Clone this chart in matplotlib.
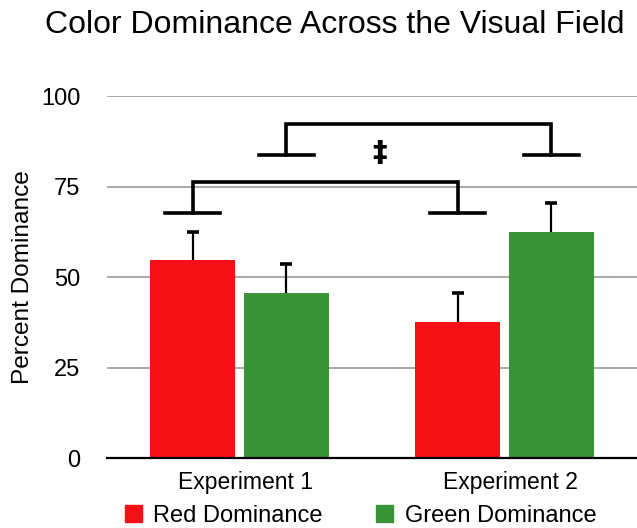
import matplotlib
matplotlib.use("Agg")
import matplotlib.pyplot as plt
import numpy as np
from matplotlib.patches import Patch

categories = ["Experiment 1", "Experiment 2"]
red_values = [54.7, 37.7]
green_values = [45.7, 62.6]
red_err = [7.9, 8.0]
green_err = [8.0, 8.0]
series_names = ["Red Dominance", "Green Dominance"]
y_ticks = [0, 25, 50, 75, 100]
bracket_levels = [(76.2, 67.7), (92.3, 83.8)]  # (top, cap) for red pair, green pair
sig_mark = "\u2021"

RED = "#F50F17"
GREEN = "#3B9337"
FONT = ["Liberation Sans", "DejaVu Sans"]
plt.rcParams["font.family"] = FONT

fig = plt.figure(figsize=(6.37, 5.28), dpi=100)
ax = fig.add_axes([107/637, 69.7/528, 530/637, 362.3/528])

x = np.arange(len(categories))
w = 0.322
off = 0.177
for xs, vals, errs, col in [(x - off, red_values, red_err, RED),
                            (x + off, green_values, green_err, GREEN)]:
    ax.bar(xs, vals, w, color=col, zorder=3)
    tops = np.array(vals) + np.array(errs)
    ax.vlines(xs, vals, tops, color="black", lw=1.6, zorder=4)
    ax.plot(xs, tops, linestyle="none", marker="_", markersize=9,
            markeredgewidth=2.6, color="black", zorder=4)

ax.set_xlim(-0.5, 1.5)
ax.set_ylim(0, 100)
ax.set_yticks(y_ticks)
ax.set_yticklabels([str(t) for t in y_ticks], fontsize=17)
ax.set_xticks(x + 0.022)
ax.set_xticklabels(categories, fontsize=16.5)
ax.tick_params(length=0)
ax.tick_params(axis="y", pad=19)
ax.tick_params(axis="x", pad=9)
ax.yaxis.grid(True, color="#A8A8A8", linewidth=1.4, zorder=0)
ax.set_axisbelow(True)
for s in ["top", "right", "left"]:
    ax.spines[s].set_visible(False)
ax.spines["bottom"].set_linewidth(1.6)
ax.spines["bottom"].set_zorder(4)
ax.set_ylabel("Percent Dominance", fontsize=17.6)
ax.yaxis.set_label_coords(-0.138, 0.5)

# significance brackets
cap_hw = 0.103
for (top, cap), sign in zip(bracket_levels, [-1, 1]):
    xs = x + sign * off
    ax.plot([xs[0], xs[0], xs[1], xs[1]], [cap, top, top, cap],
            color="black", lw=2.6, solid_joinstyle="miter", zorder=5, clip_on=False)
    for xi in xs:
        ax.plot([xi - cap_hw, xi + cap_hw], [cap, cap], color="black", lw=2.6,
                zorder=5, clip_on=False)
ax.text(0.53, 84.3, sig_mark, ha="center", va="center", fontsize=21,
        fontweight="bold", family=["DejaVu Sans"])

fig.text(0.526, 1 - 25/528, "Color Dominance Across the Visual Field",
         ha="center", va="center", fontsize=23)

handles = [Patch(color=RED), Patch(color=GREEN)]
fig.legend(handles, series_names, loc="center", bbox_to_anchor=(0.566, 1 - 516/528),
           ncol=2, frameon=False, fontsize=17, handlelength=0.72, handleheight=0.72,
           columnspacing=2.25, handletextpad=0.5, borderpad=0, borderaxespad=0)

fig.savefig("out.png", dpi=100)
